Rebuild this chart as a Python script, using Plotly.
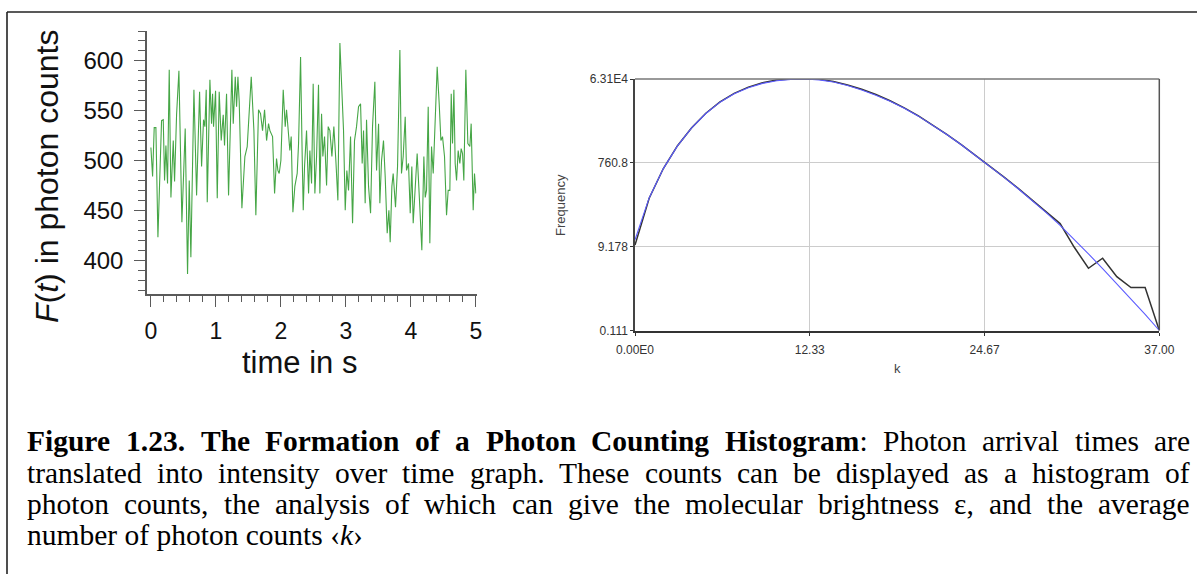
import math
import plotly.graph_objects as go

W, H = 1197, 574

# ---------------- Left panel: intensity trace F(t) ----------------
time_s = [0.000, 0.026, 0.051, 0.077, 0.108, 0.164, 0.190, 0.210, 0.231, 0.256,
          0.282, 0.308, 0.344, 0.364, 0.395, 0.431, 0.477, 0.528, 0.564, 0.590,
          0.615, 0.662, 0.703, 0.749, 0.780, 0.810, 0.831, 0.851, 0.867, 0.908,
          0.933, 0.949, 0.964, 0.995, 1.021, 1.051, 1.082, 1.113, 1.133, 1.164,
          1.195, 1.246, 1.267, 1.298, 1.318, 1.339, 1.359, 1.400, 1.446, 1.482,
          1.544, 1.585, 1.615, 1.656, 1.687, 1.718, 1.749, 1.780, 1.810, 1.831,
          1.872, 1.903, 1.933, 1.954, 1.974, 2.000, 2.036, 2.067, 2.087, 2.118,
          2.138, 2.159, 2.185, 2.215, 2.251, 2.272, 2.303, 2.328, 2.344, 2.364,
          2.395, 2.426, 2.446, 2.472, 2.497, 2.523, 2.549, 2.579, 2.600, 2.626,
          2.646, 2.672, 2.703, 2.728, 2.754, 2.785, 2.815, 2.846, 2.877, 2.908,
          2.938, 2.964, 2.990, 3.015, 3.041, 3.072, 3.103, 3.133, 3.164, 3.195,
          3.226, 3.251, 3.272, 3.297, 3.318, 3.349, 3.380, 3.410, 3.446, 3.472,
          3.503, 3.523, 3.549, 3.579, 3.605, 3.636, 3.662, 3.682, 3.708, 3.728,
          3.764, 3.795, 3.831, 3.856, 3.882, 3.913, 3.933, 3.964, 3.990, 4.015,
          4.036, 4.067, 4.097, 4.138, 4.169, 4.200, 4.221, 4.241, 4.267, 4.292,
          4.318, 4.344, 4.380, 4.405, 4.436, 4.462, 4.487, 4.518, 4.549, 4.574,
          4.600, 4.621, 4.641, 4.662, 4.682, 4.703, 4.728, 4.754, 4.774, 4.795,
          4.815, 4.846, 4.877, 4.908, 4.928, 4.959, 4.979, 5.000]

photon_counts = [513, 484, 533, 533, 423, 540, 541, 480, 515, 477,
                 591, 463, 520, 479, 546, 590, 438, 532, 386, 480,
                 403, 571, 465, 569, 494, 541, 534, 571, 458, 581,
                 537, 567, 534, 570, 462, 569, 520, 546, 515, 567,
                 465, 591, 537, 584, 554, 584, 559, 452, 504, 514,
                 584, 530, 445, 551, 547, 530, 551, 520, 537, 530,
                 524, 467, 502, 490, 487, 500, 571, 534, 551, 527,
                 510, 524, 448, 474, 487, 517, 604, 504, 450, 494,
                 530, 467, 510, 477, 577, 467, 504, 576, 467, 547,
                 504, 524, 475, 534, 530, 504, 534, 500, 460, 618,
                 561, 530, 450, 490, 470, 524, 437, 520, 534, 554,
                 557, 497, 530, 457, 541, 474, 447, 534, 579, 490,
                 537, 457, 500, 520, 484, 427, 450, 418, 474, 487,
                 453, 494, 611, 487, 504, 544, 490, 497, 447, 494,
                 437, 474, 507, 453, 410, 504, 463, 470, 554, 417,
                 514, 487, 551, 594, 557, 520, 524, 504, 445, 470,
                 470, 567, 517, 571, 497, 480, 510, 497, 512, 507,
                 480, 591, 517, 514, 537, 450, 487, 467]

# ---------------- Right panel: photon counting histogram ----------------
k_values = list(range(38))
freq_measured = [10, 118, 565, 1880, 4840, 10400, 18900, 29500, 41200, 52000,
                 59500, 63100, 63100, 62000, 55500, 46200, 36700, 27800, 20100, 13800,
                 9050, 5700, 3430, 2010, 1160, 652, 368, 203, 110, 60,
                 31, 8.9, 2.95, 5.0, 1.9, 1.07, 1.07, 0.111]
freq_fit = [13.2, 120, 562, 1862, 4786, 10230, 18620, 28840, 39810, 50120,
            57540, 61660, 63100, 60260, 53700, 44670, 35480, 26920, 19500, 13490,
            8913, 5623, 3388, 1995, 1148, 646, 363, 200, 107, 56.2,
            28.2, 13.5, 6.3, 2.9, 1.32, 0.59, 0.26, 0.111]

right_y_tickvals = [0.111, 9.178, 760.8, 63100]
right_y_ticktext = ["0.111", "9.178", "760.8", "6.31E4"]
right_x_tickvals = [0, 12.33, 24.67, 37]
right_x_ticktext = ["0.00E0", "12.33", "24.67", "37.00"]

# ---------------- Caption ----------------
caption_bold = "Figure 1.23. The Formation of a Photon Counting Histogram"
caption_line1_rest = ": Photon arrival times are"
caption_line2 = "translated into intensity over time graph. These counts can be displayed as a histogram of"
caption_line3 = "photon counts, the analysis of which can give the molecular brightness \u03b5, and the average"
caption_line4 = "number of photon counts \u2039<i>k</i>\u203a"


def px(x):
    return x / W


def py(y):
    return 1 - y / H


fig = go.Figure()

fig.add_trace(go.Scatter(x=time_s, y=photon_counts, mode="lines",
                         line=dict(color="#46a646", width=1.1),
                         xaxis="x", yaxis="y", showlegend=False, hoverinfo="skip"))
fig.add_trace(go.Scatter(x=k_values, y=freq_measured, mode="lines",
                         line=dict(color="#333333", width=1.5),
                         xaxis="x2", yaxis="y2", showlegend=False, hoverinfo="skip"))
fig.add_trace(go.Scatter(x=k_values, y=freq_fit, mode="lines",
                         line=dict(color="#5c5cff", width=1.1),
                         xaxis="x2", yaxis="y2", showlegend=False, hoverinfo="skip"))

sans = "Liberation Sans, Arial, sans-serif"
axis_col = "#5a5a5a"

fig.update_layout(
    template="none",
    width=W, height=H,
    margin=dict(l=0, r=0, t=0, b=0, pad=0, autoexpand=False),
    paper_bgcolor="white", plot_bgcolor="white",
    showlegend=False,
    xaxis=dict(domain=[px(147), px(476.5)], range=[-0.06, 5.01], anchor="y",
               automargin=False,
               tick0=0, dtick=1, ticks="outside", ticklen=11, tickwidth=1.3,
               tickcolor=axis_col, showline=True, linecolor=axis_col, linewidth=1.5,
               showgrid=False, zeroline=False, ticklabelstandoff=5,
               tickfont=dict(family=sans, size=23, color="#111"),
               minor=dict(tick0=0, dtick=0.2, ticks="outside", ticklen=6,
                          tickwidth=1.1, tickcolor=axis_col, showgrid=False)),
    yaxis=dict(domain=[py(294), py(31)], range=[366, 630], anchor="x",
               automargin=False,
               tick0=0, dtick=50, ticks="outside", ticklen=11, tickwidth=1.3,
               tickcolor=axis_col, showline=True, linecolor=axis_col, linewidth=1.5,
               showgrid=False, zeroline=False, ticklabelstandoff=6,
               tickfont=dict(family=sans, size=24, color="#111"),
               minor=dict(tick0=0, dtick=10, ticks="outside", ticklen=7,
                          tickwidth=1.1, tickcolor=axis_col, showgrid=False)),
    xaxis2=dict(domain=[px(635), px(1159.3)], range=[0, 37], anchor="y2",
                automargin=False,
                tickmode="array", tickvals=right_x_tickvals, ticktext=right_x_ticktext,
                ticks="outside", ticklen=3, tickcolor="#333", showline=True,
                linecolor="#333", linewidth=2, showgrid=True, gridcolor="#cccccc",
                gridwidth=1, zeroline=False, ticklabelstandoff=4,
                tickfont=dict(family=sans, size=12, color="#333")),
    yaxis2=dict(domain=[py(330.5), py(79)], type="log",
                range=[math.log10(0.111), math.log10(63100)], anchor="x2",
                automargin=False,
                tickmode="array", tickvals=right_y_tickvals, ticktext=right_y_ticktext,
                ticks="outside", ticklen=3, tickcolor="#333", showline=True,
                linecolor="#444", linewidth=1.5, showgrid=True, gridcolor="#cccccc",
                gridwidth=1, zeroline=False,
                tickfont=dict(family=sans, size=12, color="#333")),
)

shapes = [
    # right plot frame (top and right edges)
    dict(type="line", xref="x2 domain", yref="y2 domain", x0=0, x1=1, y0=1, y1=1,
         line=dict(color="#777", width=1.5)),
    dict(type="line", xref="x2 domain", yref="y2 domain", x0=1, x1=1, y0=0, y1=1,
         line=dict(color="#555", width=1.5)),
    # page frame (top and left)
    dict(type="line", xref="paper", yref="paper", x0=px(7), x1=1, y0=py(12), y1=py(12),
         line=dict(color="#222", width=1.6)),
    dict(type="line", xref="paper", yref="paper", x0=px(7), x1=px(7), y0=py(12), y1=0,
         line=dict(color="#222", width=1.6)),
]
fig.update_layout(shapes=shapes)

annotations = [
    dict(text="<i>F</i>(<i>t</i>) in photon counts", textangle=-90,
         x=px(47), y=py(177), xref="paper", yref="paper", showarrow=False,
         xanchor="center", yanchor="middle",
         font=dict(family=sans, size=32, color="#111")),
    dict(text="time in s", x=px(299.5), y=py(362), xref="paper", yref="paper",
         showarrow=False, xanchor="center", yanchor="middle",
         font=dict(family=sans, size=31, color="#111")),
    dict(text="Frequency", textangle=-90, x=px(560), y=py(205), xref="paper", yref="paper",
         showarrow=False, xanchor="center", yanchor="middle",
         font=dict(family=sans, size=13, color="#444")),
    dict(text="k", x=px(897), y=py(368), xref="paper", yref="paper",
         showarrow=False, xanchor="center", yanchor="middle",
         font=dict(family=sans, size=13, color="#444")),
]

# ---- justified caption (Times metrics, Liberation Serif) ----
REG = {' ': .25, ',': .25, '.': .25, ':': .278, 'a': .444, 'b': .5, 'c': .444, 'd': .5,
       'e': .444, 'f': .333, 'g': .5, 'h': .5, 'i': .278, 'j': .278, 'k': .5, 'l': .278,
       'm': .778, 'n': .5, 'o': .5, 'p': .5, 'q': .5, 'r': .333, 's': .389, 't': .278,
       'u': .5, 'v': .5, 'w': .722, 'x': .5, 'y': .5, 'z': .444, 'T': .611, 'P': .556,
       'F': .556, '\u03b5': .44}
BOLD = {' ': .25, '.': .25, 'a': .5, 'b': .556, 'c': .444, 'd': .556, 'e': .444, 'f': .333,
        'g': .5, 'h': .556, 'i': .278, 'l': .278, 'm': .833, 'n': .556, 'o': .5, 'r': .444,
        's': .389, 't': .333, 'u': .556, 'F': .611, 'T': .667, 'P': .611, 'C': .722,
        'H': .778}
CAP_SIZE = 29.5
serif = "Liberation Serif, Times New Roman, serif"
LEFT, RIGHT = 27, 1190


def wlen(s, table):
    return sum(table.get(ch, 0.5) for ch in s) * CAP_SIZE


def justified(words, y_center):
    total = sum(w for _, w in words)
    gap = (RIGHT - LEFT - total) / (len(words) - 1)
    x = LEFT
    out = []
    for html, w in words:
        out.append(dict(text=html, x=px(x), y=py(y_center), xref="paper", yref="paper",
                        showarrow=False, xanchor="left", yanchor="middle",
                        borderpad=0, borderwidth=0,
                        font=dict(family=serif, size=CAP_SIZE, color="#000")))
        x += w + gap
    return out


bold_words = caption_bold.split(" ")
line1 = [("<b>%s</b>" % w, wlen(w, BOLD)) for w in bold_words[:-1]]
rest_words = caption_line1_rest.split(" ")
last = bold_words[-1]
line1.append(("<b>%s</b>%s" % (last, rest_words[0]), wlen(last, BOLD) + wlen(rest_words[0], REG)))
line1 += [(w, wlen(w, REG)) for w in rest_words[1:]]
line2 = [(w, wlen(w, REG)) for w in caption_line2.split(" ")]
line3 = [(w, wlen(w, REG)) for w in caption_line3.split(" ")]

annotations += justified(line1, 441)
annotations += justified(line2, 473)
annotations += justified(line3, 504)
annotations.append(dict(text=caption_line4, x=px(LEFT), y=py(535), xref="paper", yref="paper",
                        showarrow=False, xanchor="left", yanchor="middle",
                        borderpad=0, borderwidth=0,
                        font=dict(family=serif, size=CAP_SIZE, color="#000")))

fig.update_layout(annotations=annotations)

fig.write_html("out.html")
